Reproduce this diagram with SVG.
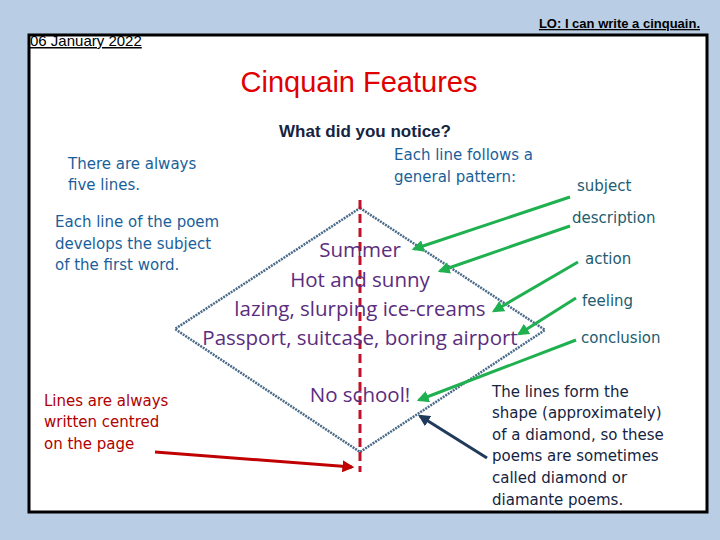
<svg xmlns="http://www.w3.org/2000/svg" width="720" height="540" viewBox="0 0 720 540">
<defs>
<style>
.c{font-family:"DejaVu Sans",sans-serif;font-size:15px}
.p{font-family:"Open Sans",sans-serif;font-size:20.5px;fill:#5b2d7e;text-anchor:middle}
.g{font-family:"DejaVu Sans",sans-serif;font-size:15px;fill:#1e5c6e}
.ga{stroke:#1fb04f;stroke-width:3;fill:none;marker-end:url(#mg)}
</style>
<marker id="mg" viewBox="0 0 10 10" refX="8" refY="5" markerWidth="4" markerHeight="4" orient="auto"><path d="M0,0L10,5L0,10z" fill="#1fb04f"/></marker>
<marker id="mn" viewBox="0 0 10 10" refX="8" refY="5" markerWidth="4" markerHeight="4" orient="auto"><path d="M0,0L10,5L0,10z" fill="#1f3a5a"/></marker>
<marker id="mr" viewBox="0 0 10 10" refX="8" refY="5" markerWidth="4" markerHeight="4" orient="auto"><path d="M0,0L10,5L0,10z" fill="#c00000"/></marker>
</defs>
<rect width="720" height="540" fill="#b9cde4"/>
<rect x="29" y="35" width="678" height="477" fill="#fff" stroke="#000" stroke-width="3"/>
<text x="30" y="46" font-family="Liberation Sans,sans-serif" font-size="15" text-decoration="underline">06 January 2022</text>
<text x="700" y="28" font-family="Liberation Sans,sans-serif" font-size="13" font-weight="bold" text-anchor="end" text-decoration="underline">LO: I can write a cinquain.</text>
<text x="359" y="92" font-family="Liberation Sans,sans-serif" font-size="29" fill="#e00000" text-anchor="middle">Cinquain Features</text>
<text x="365" y="137" font-family="Liberation Sans,sans-serif" font-size="17" font-weight="bold" fill="#15243f" text-anchor="middle">What did you notice?</text>
<g id="diamond"><path d="M360,208L545,330L360,452L175,329Z" fill="none" stroke="#4a6a8a" stroke-width="2.5" stroke-dasharray="2,1"/></g>
<g id="centre"><line x1="360" y1="200" x2="360" y2="472" stroke="#c0102a" stroke-width="3" stroke-dasharray="9,5"/></g>
<g id="poem">
<text class="p" x="360" y="257">Summer</text>
<text class="p" x="360" y="287">Hot and sunny</text>
<text class="p" x="360" y="316">lazing, slurping ice-creams</text>
<text class="p" x="360" y="345">Passport, suitcase, boring airport</text>
<text class="p" x="360" y="402">No school!</text>
</g>
<g id="notes" class="c">
<text x="68" y="169" fill="#1a5f9a">There are always</text>
<text x="68" y="190" fill="#1a5f9a">five lines.</text>
<text x="55" y="227" fill="#1a5f9a">Each line of the poem</text>
<text x="55" y="249" fill="#1a5f9a">develops the subject</text>
<text x="55" y="270" fill="#1a5f9a">of the first word.</text>
<text x="394" y="160" fill="#1a5f9a">Each line follows a</text>
<text x="394" y="182" fill="#1a5f9a">general pattern:</text>
<text x="44" y="406" fill="#b00000">Lines are always</text>
<text x="44" y="427" fill="#b00000">written centred</text>
<text x="44" y="449" fill="#b00000">on the page</text>
<text x="492" y="397" fill="#15243f">The lines form the</text>
<text x="492" y="418" fill="#15243f">shape (approximately)</text>
<text x="492" y="440" fill="#15243f">of a diamond, so these</text>
<text x="492" y="461" fill="#15243f">poems are sometimes</text>
<text x="492" y="483" fill="#15243f">called diamond or</text>
<text x="492" y="505" fill="#15243f">diamante poems.</text>
</g>
<g id="labels">
<text class="g" x="577" y="191">subject</text>
<text class="g" x="572" y="223">description</text>
<text class="g" x="585" y="264">action</text>
<text class="g" x="582" y="306">feeling</text>
<text class="g" x="581" y="343">conclusion</text>
</g>
<g id="connectors">
<line class="ga" x1="570" y1="197" x2="414" y2="249"/>
<line class="ga" x1="570" y1="226" x2="440" y2="271"/>
<line class="ga" x1="578" y1="262" x2="494" y2="311"/>
<line class="ga" x1="576" y1="298" x2="519" y2="334"/>
<line class="ga" x1="576" y1="340" x2="419" y2="400"/>
<line x1="487" y1="458" x2="420" y2="416" stroke="#1f3a5a" stroke-width="3" marker-end="url(#mn)"/>
<line x1="155" y1="452" x2="352" y2="467" stroke="#c00000" stroke-width="3" marker-end="url(#mr)"/>
</g>
</svg>
